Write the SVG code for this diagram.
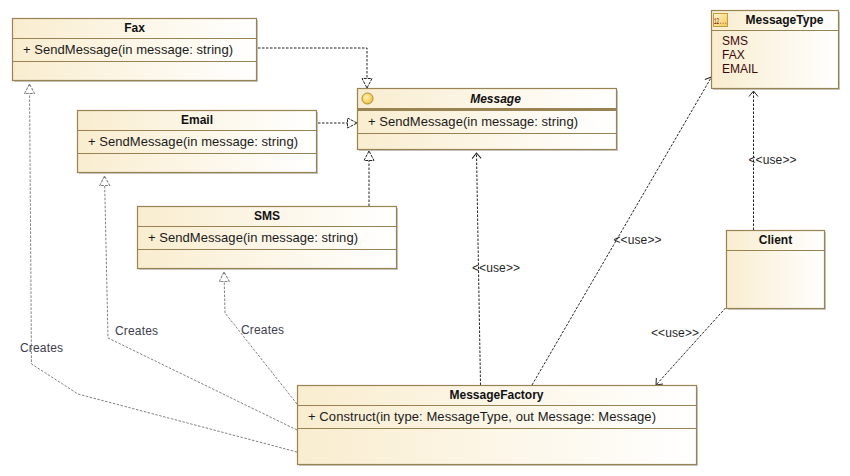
<svg xmlns="http://www.w3.org/2000/svg" width="850" height="476" viewBox="0 0 850 476">
<style>
text{font-family:"Liberation Sans",Arial,sans-serif;font-size:13px;fill:#1a1a1a}
.t{font-weight:bold;font-size:12px;text-anchor:middle;fill:#111}
.i{font-style:italic}
.box{fill:url(#g);stroke:#9a8352;stroke-width:1.2}
.sh{fill:#c8c8c8}
.d{stroke:#9a8352;stroke-width:1;fill:none}
.th{stroke:#9a8352;stroke-width:3;fill:none}
.u{stroke:#222;stroke-width:1;stroke-dasharray:2.5 1.5;fill:none}
.c{stroke:#808080;stroke-width:1;stroke-dasharray:2.5 1.5;fill:none}
.l{fill:#1f1f2a;font-size:12px}
.cr{fill:#3d3d4d;font-size:12px}
.e{fill:#3a0a0a;font-size:12px}
</style>
<defs>
<linearGradient id="g" x1="0" y1="0" x2="1" y2="0"><stop offset="0" stop-color="#f9edcf"/><stop offset="1" stop-color="#ffffff"/></linearGradient>
<radialGradient id="y" cx="0.4" cy="0.4" r="0.7"><stop offset="0" stop-color="#fff3b0"/><stop offset="1" stop-color="#f2b92e"/></radialGradient>
<linearGradient id="y2" x1="0" y1="0" x2="1" y2="1"><stop offset="0" stop-color="#fff6cf"/><stop offset="1" stop-color="#f3c75a"/></linearGradient>
<marker id="tri" markerUnits="userSpaceOnUse" viewBox="0 0 12 12" refX="10.5" refY="5.5" markerWidth="12" markerHeight="12" orient="auto"><path d="M10.5 5.5L1 0.5V10.5Z" fill="#fff" stroke="#222" stroke-width="1" stroke-dasharray="3 1"/></marker>
<marker id="trig" markerUnits="userSpaceOnUse" viewBox="0 0 12 12" refX="10.5" refY="5.5" markerWidth="12" markerHeight="12" orient="auto"><path d="M10.5 5.5L1 0.5V10.5Z" fill="#fff" stroke="#808080" stroke-width="1" stroke-dasharray="3 1"/></marker>
<marker id="open" markerUnits="userSpaceOnUse" viewBox="0 0 12 12" refX="10.5" refY="5.5" markerWidth="12" markerHeight="12" orient="auto"><path d="M5 1L10.5 5.5L5 10" fill="none" stroke="#222" stroke-width="1"/></marker>
</defs>
<g id="connectors">
<path class="u" d="M258 48H367V88" marker-end="url(#tri)"/>
<path class="u" d="M318 123H357" marker-end="url(#tri)"/>
<path class="u" d="M369 206V151" marker-end="url(#tri)"/>
<path class="u" d="M480.5 385L476.5 153" marker-end="url(#open)"/>
<path class="u" d="M532 385L711.5 77" marker-end="url(#open)"/>
<path class="u" d="M753.5 230V91" marker-end="url(#open)"/>
<path class="u" d="M725.5 308L656 385" marker-end="url(#open)"/>
<path class="c" d="M297 404L225 313L224 272" marker-end="url(#trig)"/>
<path class="c" d="M297 430L108 338L104.5 176" marker-end="url(#trig)"/>
<path class="c" d="M297 452L78 394L31.5 364L29.5 84" marker-end="url(#trig)"/>
<text x="472" y="272" class="l" textLength="48">&lt;&lt;use&gt;&gt;</text>
<text x="613.5" y="244" class="l" textLength="48">&lt;&lt;use&gt;&gt;</text>
<text x="748.5" y="164" class="l" textLength="48">&lt;&lt;use&gt;&gt;</text>
<text x="651" y="337" class="l" textLength="48">&lt;&lt;use&gt;&gt;</text>
<text x="20" y="352" class="cr" textLength="43">Creates</text>
<text x="115" y="335" class="cr" textLength="43">Creates</text>
<text x="241" y="334" class="cr" textLength="43">Creates</text>
</g>
<g id="fax">
<rect class="sh" x="14" y="20" width="244" height="62"/><rect class="box" x="12.5" y="18.5" width="244" height="62"/>
<path class="d" d="M13 38.5H256M13 61.5H256"/>
<text class="t" x="134.5" y="32">Fax</text><text x="23" y="54" textLength="210">+ SendMessage(in message: string)</text>
</g>
<g id="email">
<rect class="sh" x="79" y="112" width="239" height="62"/><rect class="box" x="77.5" y="110.5" width="239" height="62"/>
<path class="d" d="M78 130.5H316M78 153.5H316"/>
<text class="t" x="197" y="124">Email</text><text x="88" y="146" textLength="210">+ SendMessage(in message: string)</text>
</g>
<g id="sms">
<rect class="sh" x="139" y="208" width="259" height="62"/><rect class="box" x="137.5" y="206.5" width="259" height="62"/>
<path class="d" d="M138 226.5H396M138 249.5H396"/>
<text class="t" x="267" y="220">SMS</text><text x="148" y="242" textLength="210">+ SendMessage(in message: string)</text>
</g>
<g id="message">
<rect class="sh" x="359" y="90" width="259" height="61"/><rect class="box" x="357.5" y="88.5" width="259" height="61"/>
<path class="th" d="M358 109.5H616"/><path class="d" d="M358 133.5H616"/>
<circle cx="367.5" cy="98.5" r="5.5" fill="url(#y)" stroke="#a58a45"/>
<text class="t i" x="495.5" y="103">Message</text><text x="368" y="126" textLength="210">+ SendMessage(in message: string)</text>
</g>
<g id="messagetype">
<rect class="sh" x="713" y="12" width="127" height="78"/><rect class="box" x="711.5" y="10.5" width="127" height="78"/>
<path class="d" d="M712 30.5H838"/>
<rect x="713.5" y="13.5" width="14" height="13" fill="url(#y2)" stroke="#c49a3a"/>
<text x="714" y="24" textLength="13" lengthAdjust="spacingAndGlyphs" style="font-size:9px;fill:#7a0a0a;font-family:'Liberation Mono',monospace">12...</text>
<text class="t" x="784.5" y="24">MessageType</text>
<text class="e" x="722" y="45">SMS</text><text class="e" x="722" y="59">FAX</text><text class="e" x="722" y="73">EMAIL</text>
</g>
<g id="client">
<rect class="sh" x="728" y="232" width="98" height="78"/><rect class="box" x="726.5" y="230.5" width="98" height="78"/>
<path class="d" d="M727 250.5H824"/>
<text class="t" x="775.5" y="244">Client</text>
</g>
<g id="messagefactory">
<rect class="sh" x="299" y="387" width="399" height="79"/><rect class="box" x="297.5" y="385.5" width="399" height="79"/>
<path class="d" d="M298 405.5H696M298 428.5H696"/>
<text class="t" x="496.5" y="399">MessageFactory</text><text x="308" y="421" textLength="348">+ Construct(in type: MessageType, out Message: Message)</text>
</g>
</svg>
